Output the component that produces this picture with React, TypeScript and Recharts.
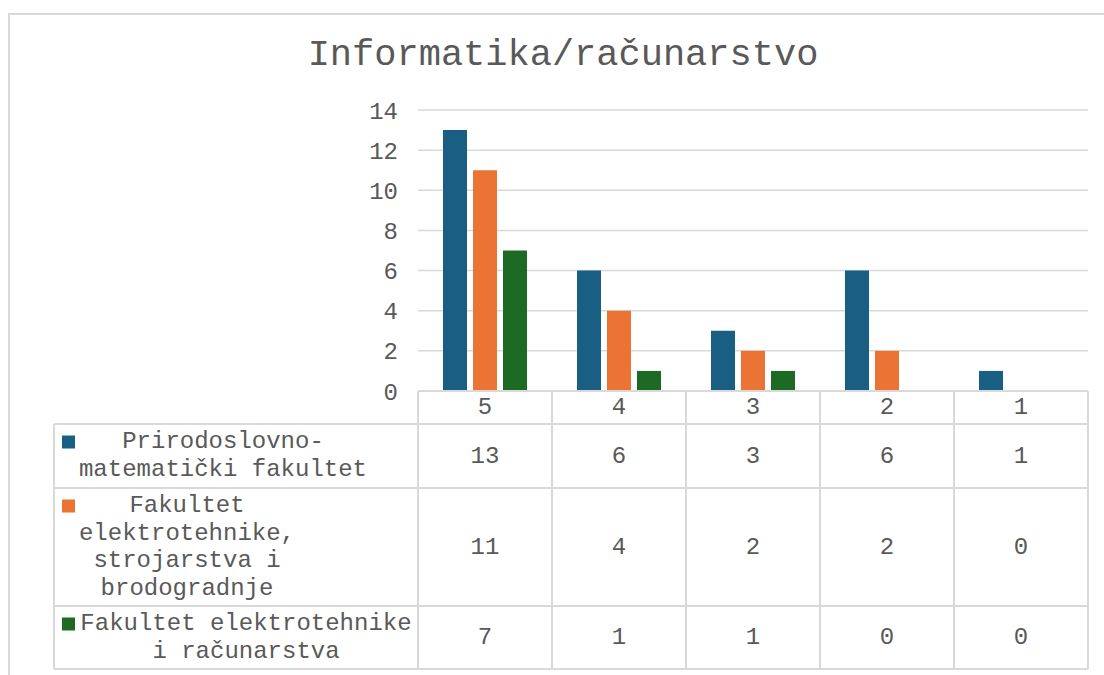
import React from 'react';
import { BarChart, Bar, XAxis, YAxis, CartesianGrid } from 'recharts';

const categories = ['5', '4', '3', '2', '1'];
const pmfValues = [13, 6, 3, 6, 1];
const fesbValues = [11, 4, 2, 2, 0];
const ferValues = [7, 1, 1, 0, 0];
const yTicks = [0, 2, 4, 6, 8, 10, 12, 14];

const seriesNames = [
  'Prirodoslovno-matematički fakultet',
  'Fakultet elektrotehnike, strojarstva i brodogradnje',
  'Fakultet elektrotehnike i računarstva',
];
const legendLines = [
  ['Prirodoslovno-', 'matematički fakultet'],
  ['Fakultet', 'elektrotehnike,', 'strojarstva i', 'brodogradnje'],
  ['Fakultet elektrotehnike', 'i računarstva'],
];
const seriesValues = [pmfValues, fesbValues, ferValues];
const colors = ['#185f83', '#eb7434', '#1c6a24'];

const data = categories.map((c, i) => ({
  name: c,
  pmf: pmfValues[i],
  fesb: fesbValues[i],
  fer: ferValues[i],
}));

const FONT = '"Liberation Mono", "Courier New", monospace';
const TEXT = '#595959';
const LINE = '#d9d9d9';

// table layout
const PLOT_LEFT = 418;
const PLOT_RIGHT = 1088;
const COL_W = (PLOT_RIGHT - PLOT_LEFT) / categories.length;
const LEGEND_W = 364;
const HEADER_H = 33;
const ROW_H = [64, 118, 63];
const legendDx = [-13, -49, 10];

const TableTick = (props: any) => {
  const { x, y, payload } = props;
  const idx = payload.index ?? categories.indexOf(String(payload.value));
  const left = x - COL_W / 2;
  const right = x + COL_W / 2;
  const tableH = HEADER_H + ROW_H.reduce((a, b) => a + b, 0);
  const rowTops: number[] = [];
  let t = y + HEADER_H;
  ROW_H.forEach((h) => {
    rowTops.push(t);
    t += h;
  });
  const txt = { fontFamily: FONT, fontSize: 24, fill: TEXT };
  const legLeft = left - LEGEND_W;
  const legCenter = legLeft + LEGEND_W / 2;

  return (
    <g>
      <line x1={left} x2={right} y1={y} y2={y} stroke={LINE} strokeWidth={2} />
      <line x1={left} x2={left} y1={y} y2={y + tableH} stroke={LINE} strokeWidth={2} />
      {idx === categories.length - 1 && (
        <line x1={right} x2={right} y1={y} y2={y + tableH} stroke={LINE} strokeWidth={2} />
      )}
      <text x={x} y={y + HEADER_H / 2} textAnchor="middle" dominantBaseline="central" {...txt}>
        {payload.value}
      </text>
      {rowTops.map((rt, r) => (
        <g key={r}>
          <line x1={left} x2={right} y1={rt} y2={rt} stroke={LINE} strokeWidth={2} />
          <line x1={left} x2={right} y1={rt + ROW_H[r]} y2={rt + ROW_H[r]} stroke={LINE} strokeWidth={2} />
          <text x={x} y={rt + ROW_H[r] / 2} textAnchor="middle" dominantBaseline="central" {...txt}>
            {seriesValues[r][idx]}
          </text>
        </g>
      ))}
      {idx === 0 && (
        <g>
          <line x1={legLeft} x2={legLeft} y1={y + HEADER_H} y2={y + tableH} stroke={LINE} strokeWidth={2} />
          {rowTops.map((rt, r) => (
            <g key={r}>
              <title>{seriesNames[r]}</title>
              <line x1={legLeft} x2={left} y1={rt} y2={rt} stroke={LINE} strokeWidth={2} />
              <line x1={legLeft} x2={left} y1={rt + ROW_H[r]} y2={rt + ROW_H[r]} stroke={LINE} strokeWidth={2} />
              <rect x={legLeft + 8} y={rt + 11.5} width={13} height={13} fill={colors[r]} />
              {legendLines[r].map((ln, k) => (
                <text key={k} x={legCenter + legendDx[r]} y={rt + 24 + k * 27.5} textAnchor="middle" {...txt}>
                  {ln}
                </text>
              ))}
            </g>
          ))}
        </g>
      )}
    </g>
  );
};

export default function App() {
  return (
    <div style={{ position: 'absolute', left: 0, top: 0, width: 1104, height: 675, background: '#fff' }}>
      <div
        style={{
          position: 'absolute',
          left: 8,
          top: 13,
          width: 1110,
          height: 680,
          border: `2px solid ${LINE}`,
          boxSizing: 'border-box',
        }}
      />
      <div
        style={{
          position: 'absolute',
          left: 8,
          width: 1110,
          top: 37,
          textAlign: 'center',
          fontFamily: FONT,
          fontSize: 37,
          lineHeight: '37px',
          color: TEXT,
        }}
      >
        Informatika/računarstvo
      </div>
      <div style={{ position: 'absolute', left: 0, top: 0 }}>
        <BarChart
          width={1104}
          height={675}
          data={data}
          margin={{ top: 110, right: 1104 - PLOT_RIGHT, bottom: 0, left: PLOT_LEFT - 60 }}
          barSize={24}
          barGap={6}
        >
          <CartesianGrid vertical={false} stroke={LINE} strokeWidth={1.5} />
          <XAxis
            dataKey="name"
            axisLine={false}
            tickLine={false}
            tickSize={0}
            tickMargin={0}
            height={284}
            interval={0}
            tick={<TableTick />}
          />
          <YAxis
            width={60}
            domain={[0, 14]}
            ticks={yTicks}
            axisLine={false}
            tickLine={false}
            tickSize={0}
            tickMargin={20}
            tick={{ fontFamily: FONT, fontSize: 24, fill: TEXT }}
          />
          <Bar dataKey="pmf" name={seriesNames[0]} fill={colors[0]} isAnimationActive={false} />
          <Bar dataKey="fesb" name={seriesNames[1]} fill={colors[1]} isAnimationActive={false} />
          <Bar dataKey="fer" name={seriesNames[2]} fill={colors[2]} isAnimationActive={false} />
        </BarChart>
      </div>
    </div>
  );
}
